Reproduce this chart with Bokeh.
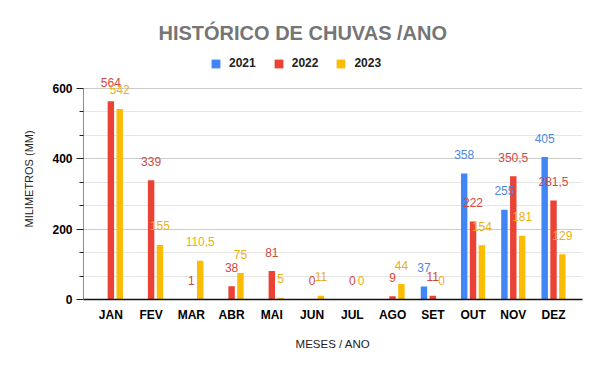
import numpy as np
from bokeh.plotting import figure
from bokeh.models import (ColumnDataSource, Range1d, FixedTicker, LabelSet, Legend,
                          LegendItem, Title)
from bokeh.core.properties import value
from bokeh.embed import file_html
from bokeh.resources import INLINE

months = ["JAN", "FEV", "MAR", "ABR", "MAI", "JUN", "JUL", "AGO", "SET", "OUT", "NOV", "DEZ"]
years = ["2021", "2022", "2023"]
v2021 = [None, None, None, None, None, None, None, None, 37, 358, 255, 405]
v2022 = [564, 339, 1, 38, 81, 0, 0, 9, 11, 222, 350.5, 281.5]
v2023 = [542, 155, 110.5, 75, 5, 11, 0, 44, 0, 154, 181, 129]
y_ticks = [0, 200, 400, 600]

bar_colors = ["#4285F4", "#EA4335", "#FBBC04"]
label_colors = ["#5087de", "#d2473e", "#eab20e"]
offsets = [-0.22, 0.0, 0.22]
FONT = "Liberation Sans"

x0, x1 = -0.68, 11.72
y_top = 708  # headroom above the 600 gridline for labels + legend
p = figure(width=600, height=371, output_backend="svg", toolbar_location=None,
           x_range=Range1d(x0, x1), y_range=Range1d(0, y_top),
           min_border_left=83, min_border_right=18, min_border_bottom=72,
           min_border_top=50)
p.outline_line_color = None
p.background_fill_color = "white"

p.title.text = "HISTÓRICO DE CHUVAS /ANO"
p.title.align = "left"
p.title.offset = 75
p.title.standoff = 13
p.title.text_font = FONT
p.title.text_font_size = "20px"
p.title.text_font_style = "bold"
p.title.text_color = "#757575"

def fmt(v):
    return ("%g" % v).replace(".", ",")

items = []
for series, color, lcolor, off, name in zip([v2021, v2022, v2023], bar_colors, label_colors, offsets, years):
    xs = [i + off for i, v in enumerate(series) if v is not None]
    ys = [v for v in series if v is not None]
    labels = [fmt(v) for v in ys]
    src = ColumnDataSource(dict(x=xs, top=ys, label=labels))
    r = p.vbar(x="x", top="top", width=0.16, source=src, color=color, line_color=None)
    items.append(LegendItem(label=name, renderers=[r]))
    ls = LabelSet(x="x", y="top", text="label", source=src, text_align="center",
                  text_baseline="middle", y_offset=19, text_font=value(FONT),
                  text_font_size="12px", text_color=lcolor)
    p.add_layout(ls)

legend = Legend(items=items, orientation="horizontal", location=(127, 229),
                glyph_width=11, glyph_height=11, label_standoff=8, spacing=17,
                label_text_font=FONT, label_text_font_size="12px",
                label_text_font_style="bold", label_text_color="#222222",
                border_line_color=None, background_fill_alpha=0, padding=0, margin=0)
p.add_layout(legend)

# y axis (line drawn only from 0 to the top tick)
minor = [a + k * (b - a) / 3 for a, b in zip(y_ticks[:-1], y_ticks[1:]) for k in (1, 2)]
p.yaxis.ticker = FixedTicker(ticks=y_ticks, minor_ticks=minor)
p.yaxis.major_label_text_font = FONT
p.yaxis.major_label_text_font_size = "12px"
p.yaxis.major_label_text_font_style = "bold"
p.yaxis.major_label_text_color = "#000000"
p.yaxis.major_tick_out = 7
p.yaxis.major_tick_in = 0
p.yaxis.minor_tick_out = 4
p.yaxis.minor_tick_in = 0
p.yaxis.axis_line_color = None
p.yaxis.major_tick_line_color = "#222222"
p.yaxis.minor_tick_line_color = "#222222"
p.yaxis.major_label_standoff = 4
p.segment(x0=[x0], y0=[y_ticks[0]], x1=[x0], y1=[y_ticks[-1]], line_color="#222222", line_width=1)

ytitle = Title(text="MILIMETROS (MM)", align="left", offset=72, standoff=29,
               text_font=FONT, text_font_size="11px", text_font_style="normal",
               text_color="#222222")
p.add_layout(ytitle, "left")

# x axis
p.xaxis.ticker = FixedTicker(ticks=list(range(len(months))))
p.xaxis.major_label_overrides = {i: m for i, m in enumerate(months)}
p.xaxis.major_label_text_font = FONT
p.xaxis.major_label_text_font_size = "12px"
p.xaxis.major_label_text_font_style = "bold"
p.xaxis.major_label_text_color = "#000000"
p.xaxis.major_tick_line_color = None
p.xaxis.minor_tick_line_color = None
p.xaxis.axis_line_color = "#111111"
p.xaxis.axis_line_width = 1.5
p.xaxis.major_label_standoff = 2
p.xaxis.axis_label = "MESES / ANO"
p.xaxis.axis_label_text_font = FONT
p.xaxis.axis_label_text_font_size = "11.5px"
p.xaxis.axis_label_text_font_style = "normal"
p.xaxis.axis_label_text_color = "#222222"
p.xaxis.axis_label_standoff = 13

p.xgrid.grid_line_color = None
p.ygrid.grid_line_color = "#cccccc"
p.ygrid.minor_grid_line_color = "#e6e6e6"

open("out.html", "w").write(file_html(p, INLINE))
